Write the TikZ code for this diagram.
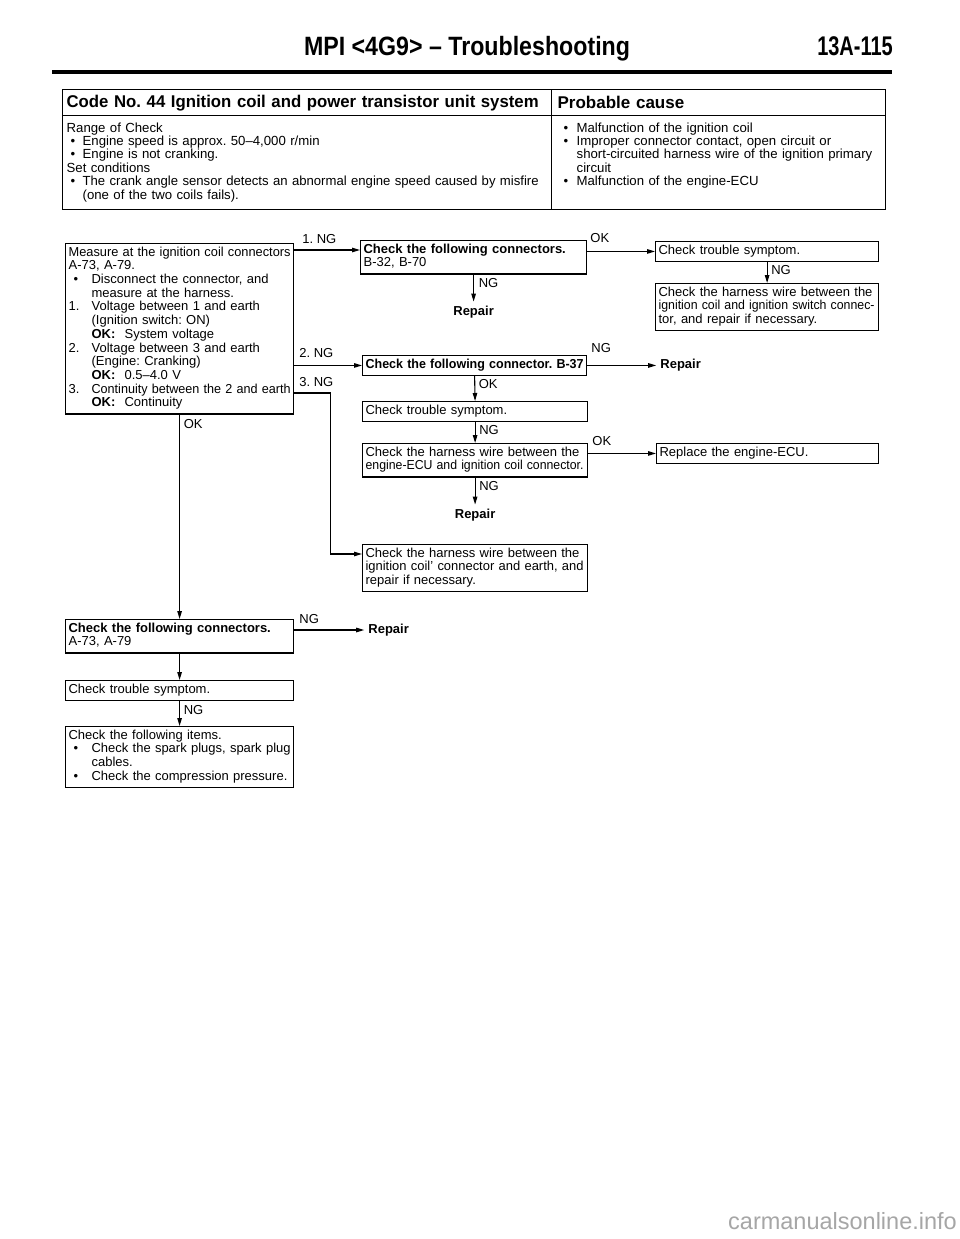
\documentclass[tikz,border=0pt]{standalone}
\usepackage{fontspec}
\setmainfont{Liberation Sans}
\usepackage{graphicx}
\usetikzlibrary{arrows.meta,calc}
\AtBeginDocument{\frenchspacing}

\newcommand\bxfont{\fontsize{13}{13.7}\selectfont\lineskiplimit=-8pt\relax}
\newcommand\tbfont{\fontsize{13.2}{13.4}\selectfont\lineskiplimit=-8pt\relax}
\newcommand\hdfont{\fontsize{17}{20}\selectfont\bfseries}
\newsavebox\jbox
\newlength\jwd
\newcommand\jus[2]{\setlength\jwd{#1}\sbox\jbox{#2}\ifdim\wd\jbox>\jwd\resizebox{\jwd}{\height}{\usebox\jbox}\else\makebox[\jwd][s]{#2}\fi}
\newcommand\numlab[1]{\makebox[23pt][l]{#1}}
\newcommand\bula{\makebox[16pt][l]{\hspace{4pt}\textbullet}}
\newcommand\bulb{\makebox[16pt][l]{\hspace{3pt}\textbullet}}
\newcommand\okl{\makebox[33pt][l]{\bfseries OK:}}

\begin{document}
\begin{tikzpicture}[x=1pt,y=-1pt,
  bx/.style={draw, line width=1.2pt, anchor=north west, inner xsep=3pt, inner ysep=3pt, align=left, font=\bxfont},
  cell/.style={draw, line width=1.3pt, anchor=north west, align=left},
  arr/.style={line width=1.1pt, -{Triangle[length=8pt,width=4.5pt]}},
  lbl/.style={font=\bxfont, inner sep=0pt, anchor=base west},
  rep/.style={font=\bxfont\bfseries, inner xsep=4pt, inner ysep=4pt}]
\useasboundingbox (0,0) rectangle (960,1239);
\fill[white] (0,0) rectangle (960,1239);

% header
\node[anchor=base, inner sep=0pt, font=\fontsize{26.5}{30}\selectfont\bfseries] (title) at (467,56) {\scalebox{0.875}[1]{MPI <4G9> – Troubleshooting}};
\node[anchor=base east, inner sep=0pt, font=\fontsize{27}{30}\selectfont\bfseries] (page) at (893,56) {\scalebox{0.74}[1]{13A-115}};
\draw[line width=4pt] (52,72) -- (892,72);

% top table
\node[cell, text width=481pt, minimum height=26pt, inner xsep=4pt, font=\hdfont] (LH) at (62,89) {\jus{472pt}{Code No. 44 Ignition coil and power transistor unit system}};
\node[cell, text width=322pt, minimum height=26pt, inner xsep=6pt, font=\hdfont] (RH) at (551,89) {Probable cause};
\node[cell, text width=481pt, inner xsep=4pt, inner ysep=6.8pt, font=\tbfont] (LB) at (62,115) {\strut Range of Check\\
\bula Engine speed is approx. 50–4,000 r/min\\
\bula Engine is not cranking.\\
Set conditions\\
\bula\jus{456pt}{The crank angle sensor detects an abnormal engine speed caused by misfire}\\
\makebox[16pt]{}(one of the two coils fails).\strut};
\node[cell, text width=316pt, inner xsep=9pt, inner ysep=6.8pt, font=\tbfont] (RB) at (551,115) {\strut\bulb Malfunction of the ignition coil\\
\bulb\jus{300pt}{Improper connector contact, open circuit or}\\
\makebox[16pt]{}\jus{300pt}{short-circuited harness wire of the ignition primary}\\
\makebox[16pt]{}circuit\\
\bulb Malfunction of the engine-ECU\\
\strut};

% flowchart boxes
\node[bx, text width=222pt] (A) at (65,243) {\strut\jus{222pt}{Measure at the ignition coil connectors}\\
A-73, A-79.\\
\numlab{\hspace{5pt}\textbullet}\jus{199pt}{Disconnect the connector, and}\\
\numlab{}measure at the harness.\\
\numlab{1.}\jus{199pt}{Voltage between 1 and earth}\\
\numlab{}(Ignition switch: ON)\\
\numlab{}\okl System voltage\\
\numlab{2.}\jus{199pt}{Voltage between 3 and earth}\\
\numlab{}(Engine: Cranking)\\
\numlab{}\okl 0.5–4.0 V\\
\numlab{3.}\jus{199pt}{Continuity between the 2 and earth}\\
\numlab{}\okl Continuity\strut};

\node[bx, text width=220pt] (B) at (360,240) {\strut\jus{220pt}{\bfseries Check the following connectors.}\\B-32, B-70\strut};
\node[bx, text width=218pt] (C) at (362,355) {\strut\jus{218pt}{\bfseries Check the following connector. B-37}\strut};
\node[bx, text width=217pt] (D) at (655,241) {\strut Check trouble symptom.\strut};
\node[bx, text width=217pt] (E) at (655,283) {\strut\jus{216pt}{Check the harness wire between the}\\
\jus{216pt}{ignition coil and ignition switch connec-}\\
tor, and repair if necessary.\strut};
\node[bx, text width=219pt] (G) at (362,401) {\strut Check trouble symptom.\strut};
\node[bx, text width=219pt] (H) at (362,443) {\strut\jus{218pt}{Check the harness wire between the}\\
\jus{218pt}{engine-ECU and ignition coil connector.}\strut};
\node[bx, text width=216pt] (I) at (656,443) {\strut Replace the engine-ECU.\strut};
\node[bx, text width=219pt] (F) at (362,544) {\strut\jus{218pt}{Check the harness wire between the}\\
\jus{218pt}{ignition coil' connector and earth, and}\\
repair if necessary.\strut};
\node[bx, text width=222pt] (J) at (65,619) {\strut\jus{216pt}{\bfseries Check the following connectors.}\\A-73, A-79\strut};
\node[bx, text width=222pt] (K) at (65,680) {\strut Check trouble symptom.\strut};
\node[bx, text width=222pt] (L) at (65,726) {\strut Check the following items.\\
\numlab{\hspace{5pt}\textbullet}\jus{199pt}{Check the spark plugs, spark plug}\\
\numlab{}cables.\\
\numlab{\hspace{5pt}\textbullet}Check the compression pressure.\strut};

% repair end nodes
\node[rep, anchor=north] (R1) at ($(B.south)+(0,27)$) {Repair};
\node[rep, anchor=west] (R2) at ($(C.east)+(69,0)$) {Repair};
\node[rep, anchor=north] (R3) at ($(H.south)+(0,27)$) {Repair};
\coordinate (j1) at ($(J.north east)+(0,11)$);
\node[rep, anchor=west] (R4) at ($(j1)+(70,0)$) {Repair};

% connectors
\coordinate (a1) at ($(A.north east)+(0,7)$);
\draw[arr] (a1) -- (a1 -| B.west);
\node[lbl] (l1) at ($(a1)+(8,-7)$) {1. NG};

\coordinate (b1) at (B.east |- D.west);
\draw[arr] (b1) -- (D.west);
\node[lbl] (l2) at ($(b1)+(3,-9)$) {OK};

\draw[arr] (D.south) -- (E.north);
\node[lbl] (l3) at ($(D.south)+(4,13)$) {NG};

\draw[arr] (B.south) -- (R1.north);
\node[lbl] (l4) at ($(B.south)+(5,13)$) {NG};

\coordinate (a2) at (A.east |- C.west);
\draw[arr] (a2) -- (C.west);
\node[lbl] (l5) at ($(a2)+(5,-8)$) {2. NG};

\draw[arr] (C.east) -- (R2.west);
\node[lbl] (l6) at ($(C.east)+(4,-13)$) {NG};

\coordinate (a3) at ($(A.north east)+(0,150)$);
\coordinate (f1) at ($(F.north west)+(0,10)$);
\draw[arr] (a3) -- ++(36,0) |- (f1);
\node[lbl] (l7) at ($(a3)+(5,-7)$) {3. NG};

\draw[arr] (C.south) -- (G.north);
\node[lbl] (l8) at ($(C.south)+(4,13)$) {OK};

\draw[arr] (G.south) -- (H.north);
\node[lbl] (l9) at ($(G.south)+(4,13)$) {NG};

\coordinate (h1) at (H.east |- I.west);
\draw[arr] (h1) -- (I.west);
\node[lbl] (l10) at ($(h1)+(4,-8)$) {OK};

\draw[arr] (H.south) -- (R3.north);
\node[lbl] (l11) at ($(H.south)+(4,13)$) {NG};

\draw[arr] (A.south) -- (J.north);
\node[lbl] (l12) at ($(A.south)+(4,14)$) {OK};

\draw[arr] (j1) -- (R4.west);
\node[lbl] (l13) at ($(j1)+(5,-7)$) {NG};

\draw[arr] (J.south) -- (K.north);
\draw[arr] (K.south) -- (L.north);
\node[lbl] (l14) at ($(K.south)+(4,14)$) {NG};

% watermark
\node[anchor=base east, inner sep=0pt, font=\fontsize{23.5}{28}\selectfont, text=black!35] (wm) at (957,1229) {carmanualsonline.info};
\end{tikzpicture}
\end{document}
